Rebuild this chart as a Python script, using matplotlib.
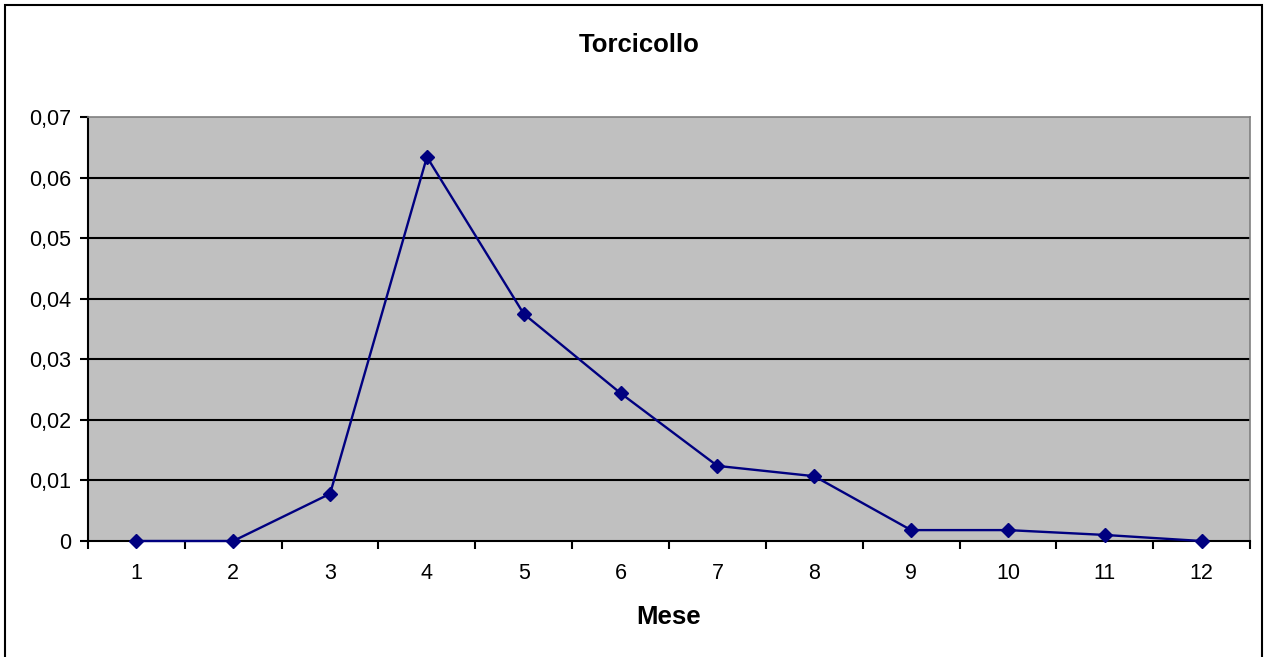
import matplotlib
matplotlib.use("Agg")
import matplotlib.pyplot as plt
from matplotlib.patches import Rectangle
from matplotlib.ticker import FixedLocator, FuncFormatter

mesi = [1, 2, 3, 4, 5, 6, 7, 8, 9, 10, 11, 12]
valori = [0, 0, 0.0078, 0.0634, 0.0375, 0.0244, 0.0124, 0.0107, 0.0018, 0.0018, 0.001, 0]
y_ticks = [0, 0.01, 0.02, 0.03, 0.04, 0.05, 0.06, 0.07]

plt.rcParams['font.family'] = ['Liberation Sans', 'DejaVu Sans']

fig = plt.figure(figsize=(12.66, 6.57), dpi=100)
ax = fig.add_axes([88 / 1266, 1 - 541 / 657, (1250 - 88) / 1266, (541 - 117) / 657])
ax.set_facecolor('#c0c0c0')

# outer chart border
fig.patches.append(Rectangle((5 / 1266, -0.01), (1262 - 5) / 1266, 1 - 5 / 657 + 0.01,
                             transform=fig.transFigure, fill=False,
                             edgecolor='black', linewidth=1.5))

for t in y_ticks[1:-1]:
    ax.axhline(t, color='black', linewidth=1.5, zorder=1)

ax.plot(mesi, valori, color='#000080', linewidth=1.7, marker='D',
        markersize=7.5, zorder=3, clip_on=False)

ax.set_xlim(0.5, 12.5)
ax.set_ylim(0, 0.07)
ax.set_yticks(y_ticks)
ax.yaxis.set_major_formatter(FuncFormatter(lambda v, p: '0' if v == 0 else f'{v:.2f}'.replace('.', ',')))

ax.xaxis.set_major_locator(FixedLocator([i + 0.5 for i in range(0, 13)]))
ax.xaxis.set_major_formatter(FuncFormatter(lambda v, p: ''))
ax.xaxis.set_minor_locator(FixedLocator(mesi))
ax.xaxis.set_minor_formatter(FuncFormatter(lambda v, p: str(int(round(v)))))
ax.tick_params(axis='x', which='major', direction='out', length=6, width=1.5, color='black')
ax.tick_params(axis='x', which='minor', length=0, pad=16, labelsize=15.5)
ax.tick_params(axis='y', direction='out', length=6, width=1.5, labelsize=15.5, pad=6)

ax.spines['left'].set_linewidth(1.5)
ax.spines['bottom'].set_linewidth(1.5)
ax.spines['top'].set_color('#808080')
ax.spines['right'].set_color('#808080')
ax.spines['top'].set_linewidth(1.2)
ax.spines['right'].set_linewidth(1.2)

fig.text(639 / 1266, 1 - 45 / 657, 'Torcicollo', ha='center', va='center',
         fontsize=18.5, fontweight='bold')
fig.text(669 / 1266, 1 - 617 / 657, 'Mese', ha='center', va='center',
         fontsize=18.5, fontweight='bold')

plt.savefig('out.png', dpi=100)
plt.close()
